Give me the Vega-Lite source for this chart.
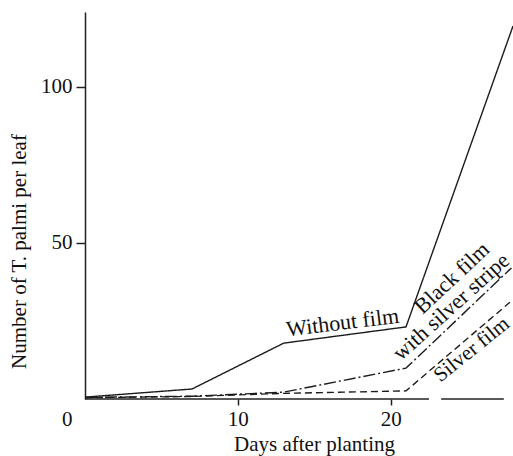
{
  "$schema": "https://vega.github.io/schema/vega-lite/v6.json",
  "width": 428,
  "height": 387,
  "autosize": {"type": "none"},
  "padding": {"left": 85, "top": 12, "right": 0, "bottom": 57},
  "background": "white",
  "config": {"view": {"stroke": null}},
  "datasets": {
    "series": [
      {"treatment": "Without film", "day": 0, "count": 0.6},
      {"treatment": "Without film", "day": 7, "count": 3.2},
      {"treatment": "Without film", "day": 13, "count": 17.9},
      {"treatment": "Without film", "day": 21, "count": 23.1},
      {"treatment": "Without film", "day": 28, "count": 119.5},
      {"treatment": "Black film with silver stripe", "day": 0, "count": 0.5},
      {"treatment": "Black film with silver stripe", "day": 7, "count": 0.9},
      {"treatment": "Black film with silver stripe", "day": 13, "count": 2.2},
      {"treatment": "Black film with silver stripe", "day": 21, "count": 9.9},
      {"treatment": "Black film with silver stripe", "day": 27.9, "count": 42},
      {"treatment": "Silver film", "day": 0, "count": 0.4},
      {"treatment": "Silver film", "day": 7, "count": 0.8},
      {"treatment": "Silver film", "day": 13, "count": 1.8},
      {"treatment": "Silver film", "day": 21, "count": 2.6},
      {"treatment": "Silver film", "day": 27.8, "count": 31}
    ],
    "labels": [
      {"text": "Without film", "day": 16.85, "count": 24.5},
      {"text": "Black film", "day": 24.0, "count": 38.8},
      {"text": "with silver stripe", "day": 23.95, "count": 29.6},
      {"text": "Silver film", "day": 25.3, "count": 15.8}
    ],
    "xaxis": [
      {"from": 0, "to": 22.5},
      {"from": 23.3, "to": 27.4}
    ]
  },
  "layer": [
    {
      "data": {"name": "series"},
      "mark": {"type": "line", "strokeWidth": 1.4, "color": "#1c1c1c"},
      "encoding": {
        "x": {
          "field": "day", "type": "quantitative", "title": "Days after planting",
          "scale": {"domain": [0, 28], "nice": false},
          "axis": {
            "values": [10, 20], "domain": false, "grid": false,
            "tickSize": 6, "tickColor": "#222", "tickWidth": 1.5,
            "labelFont": "Liberation Serif", "labelFontSize": 21, "labelColor": "#111", "labelPadding": 3,
            "title": "Days after planting", "titleFont": "Liberation Serif", "titleFontSize": 21,
            "titleFontWeight": "normal", "titleColor": "#111", "titlePadding": 4,
            "titleX": 229, "titleAlign": "center"
          }
        },
        "y": {
          "field": "count", "type": "quantitative", "title": "Number of T. palmi per leaf",
          "scale": {"domain": [0, 124], "nice": false},
          "axis": {
            "values": [0, 50, 100], "grid": false,
            "domain": true, "domainColor": "#222", "domainWidth": 1.5,
            "tickSize": 9, "tickColor": "#222", "tickWidth": 1.5,
            "tickOpacity": {"condition": {"test": "datum.value === 0", "value": 0}, "value": 1},
            "labelOffset": {"condition": {"test": "datum.value === 0", "value": 20}, "value": 0},
            "labelFont": "Liberation Serif", "labelFontSize": 21, "labelColor": "#111", "labelPadding": 4,
            "title": "Number of T. palmi per leaf", "titleFont": "Liberation Serif", "titleFontSize": 21,
            "titleFontWeight": "normal", "titleColor": "#111",
            "titleX": -60, "titleY": 239, "titleAngle": -90, "titleAlign": "center", "titleBaseline": "alphabetic"
          }
        },
        "strokeDash": {
          "field": "treatment", "type": "nominal",
          "scale": {"domain": ["Without film", "Black film with silver stripe", "Silver film"], "range": [[1, 0], [12, 3, 2, 3], [7, 4]]},
          "legend": null
        }
      }
    },
    {
      "data": {"name": "xaxis"},
      "mark": {"type": "rule", "color": "#222", "strokeWidth": 1.5},
      "encoding": {
        "x": {"field": "from", "type": "quantitative", "title": "Days after planting"},
        "x2": {"field": "to"},
        "y": {"datum": 0, "type": "quantitative"}
      }
    },
    {
      "data": {"name": "labels"},
      "transform": [{"filter": "datum.text === 'Without film'"}],
      "mark": {"type": "text", "font": "Liberation Serif", "fontSize": 22, "color": "#111", "angle": -7, "align": "center", "baseline": "middle"},
      "encoding": {
        "x": {"field": "day", "type": "quantitative", "title": "Days after planting"},
        "y": {"field": "count", "type": "quantitative", "title": "Number of T. palmi per leaf"},
        "text": {"field": "text"}
      }
    },
    {
      "data": {"name": "labels"},
      "transform": [{"filter": "datum.text === 'Black film'"}],
      "mark": {"type": "text", "font": "Liberation Serif", "fontSize": 22, "color": "#111", "angle": -43, "align": "center", "baseline": "middle"},
      "encoding": {
        "x": {"field": "day", "type": "quantitative", "title": "Days after planting"},
        "y": {"field": "count", "type": "quantitative", "title": "Number of T. palmi per leaf"},
        "text": {"field": "text"}
      }
    },
    {
      "data": {"name": "labels"},
      "transform": [{"filter": "datum.text === 'with silver stripe'"}],
      "mark": {"type": "text", "font": "Liberation Serif", "fontSize": 22, "color": "#111", "angle": -42, "align": "center", "baseline": "middle"},
      "encoding": {
        "x": {"field": "day", "type": "quantitative", "title": "Days after planting"},
        "y": {"field": "count", "type": "quantitative", "title": "Number of T. palmi per leaf"},
        "text": {"field": "text"}
      }
    },
    {
      "data": {"name": "labels"},
      "transform": [{"filter": "datum.text === 'Silver film'"}],
      "mark": {"type": "text", "font": "Liberation Serif", "fontSize": 21, "color": "#111", "angle": -39, "align": "center", "baseline": "middle"},
      "encoding": {
        "x": {"field": "day", "type": "quantitative", "title": "Days after planting"},
        "y": {"field": "count", "type": "quantitative", "title": "Number of T. palmi per leaf"},
        "text": {"field": "text"}
      }
    }
  ]
}
